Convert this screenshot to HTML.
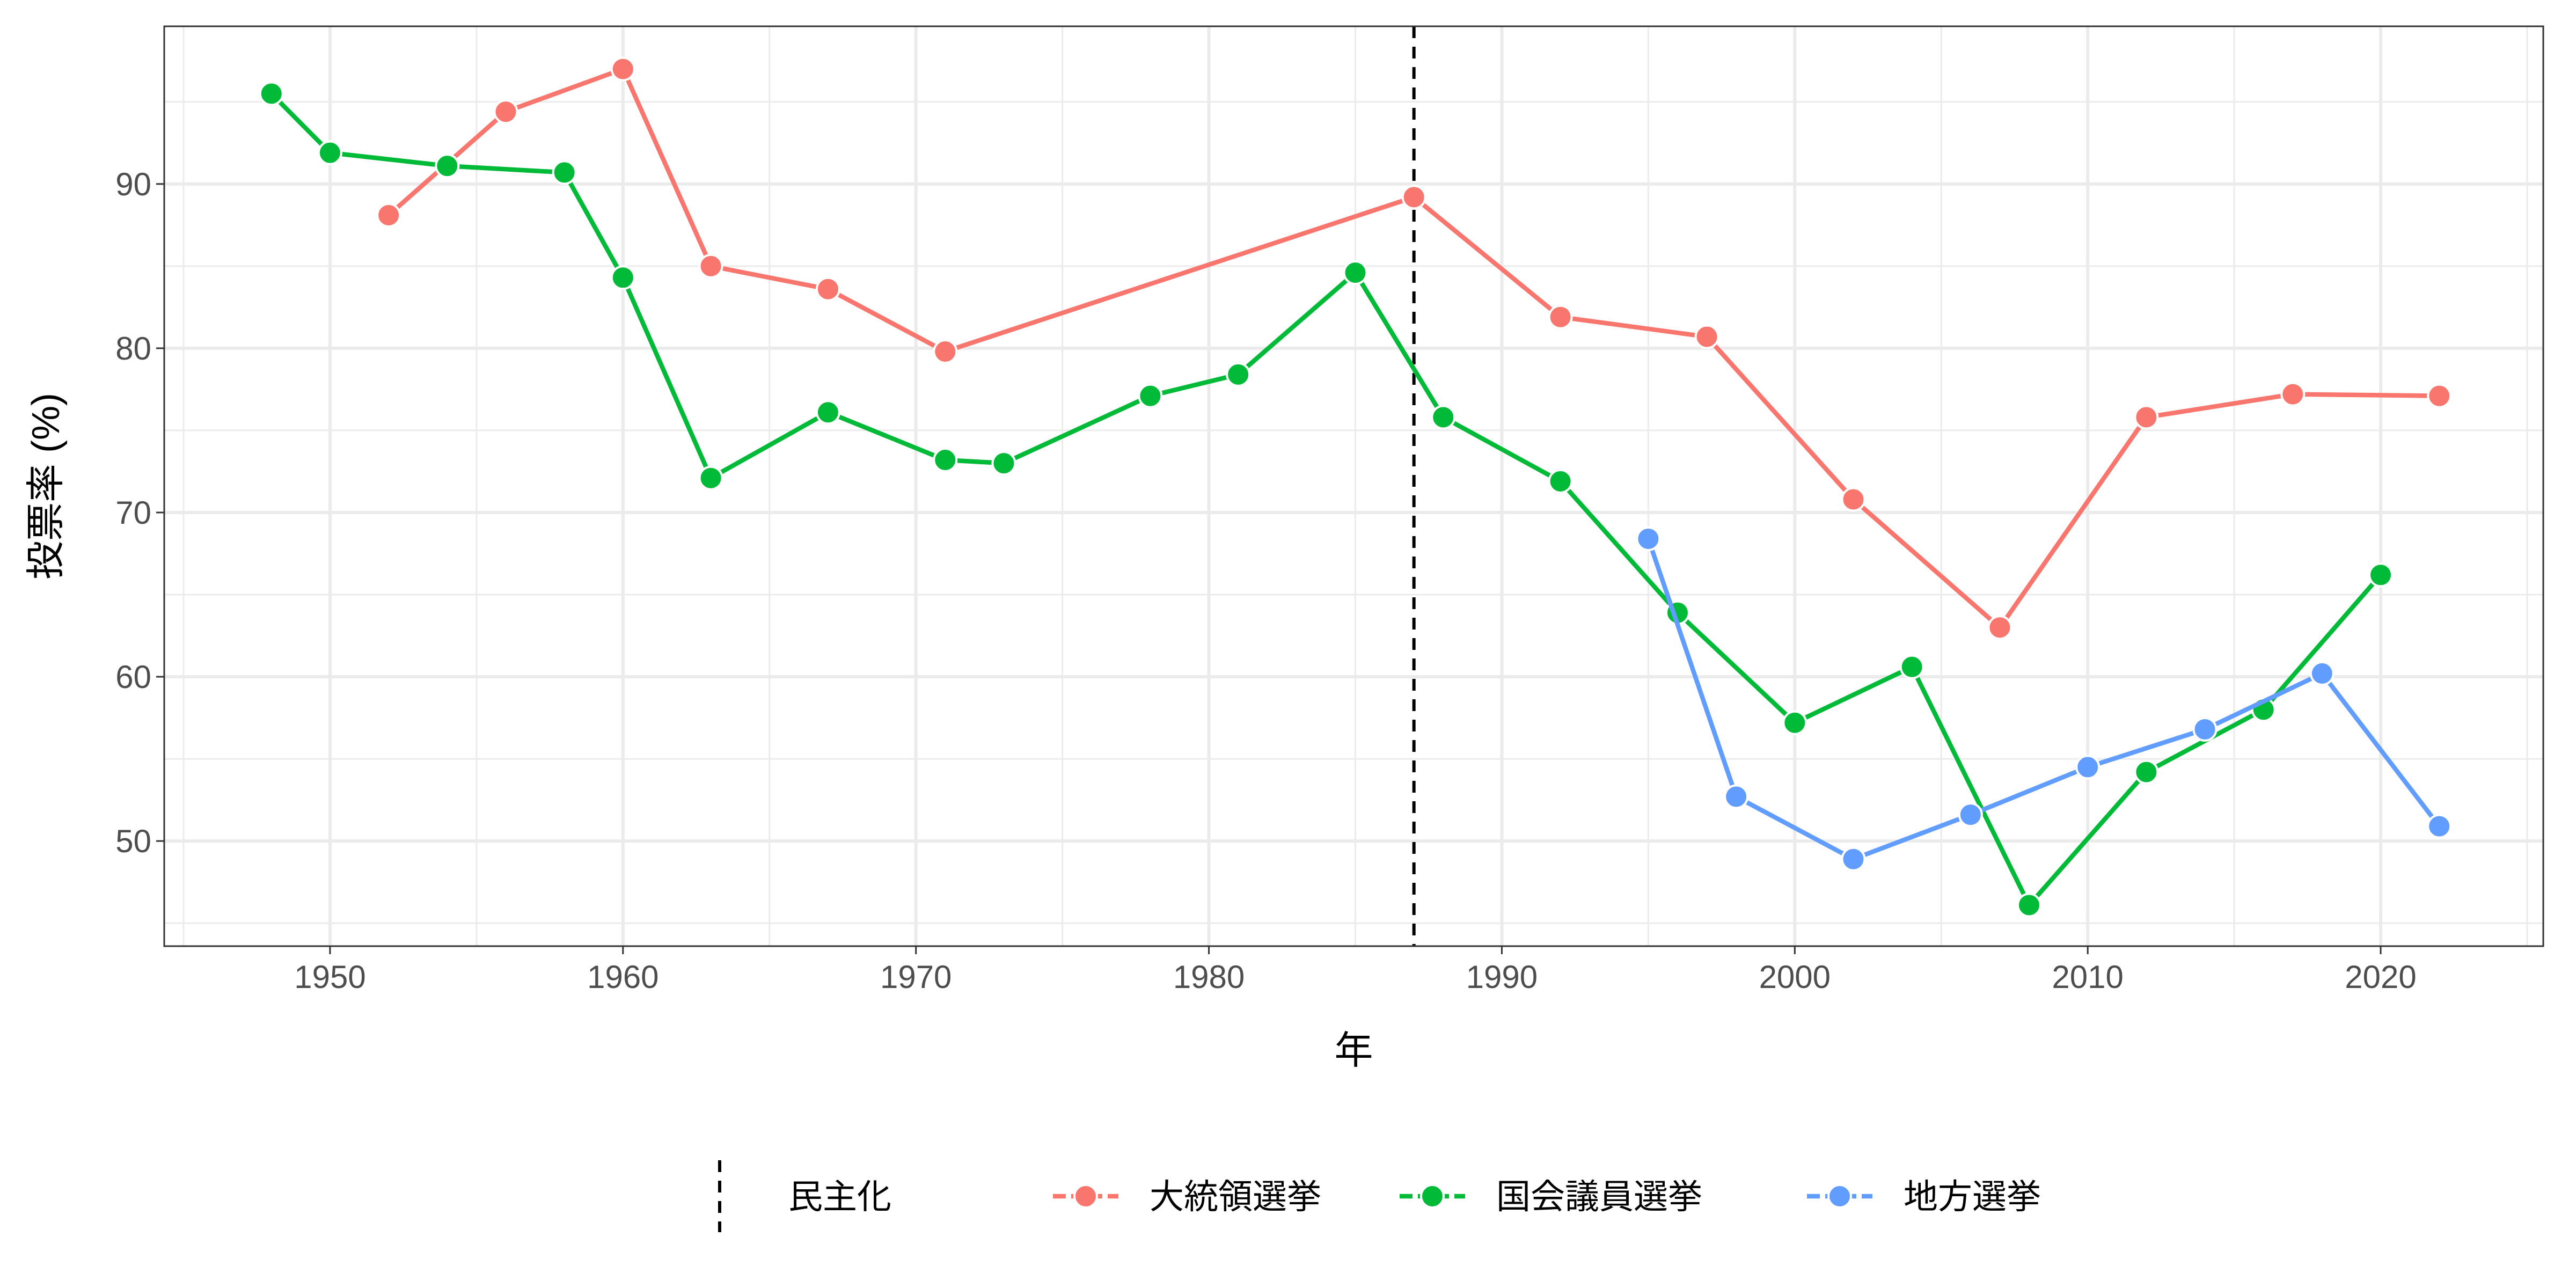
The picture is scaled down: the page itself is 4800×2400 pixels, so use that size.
<!DOCTYPE html>
<html><head><meta charset="utf-8"><style>body{margin:0;background:#fff}svg{display:block}</style></head>
<body>
<svg id="chart" width="4800" height="2400" viewBox="0 0 4800 2400" xmlns="http://www.w3.org/2000/svg" font-family="Liberation Sans, Noto Sans CJK JP, sans-serif"></svg>
<script>
const presYears=[1952,1956,1960,1963,1967,1971,1987,1992,1997,2002,2007,2012,2017,2022];
const presVals=[88.1,94.4,97.0,85.0,83.6,79.8,89.2,81.9,80.7,70.8,63.0,75.8,77.2,77.1];
const natYears=[1948,1950,1954,1958,1960,1963,1967,1971,1973,1978,1981,1985,1988,1992,1996,2000,2004,2008,2012,2016,2020];
const natVals=[95.5,91.9,91.1,90.7,84.3,72.1,76.1,73.2,73.0,77.1,78.4,84.6,75.8,71.9,63.9,57.2,60.6,46.1,54.2,58.0,66.2];
const locYears=[1995,1998,2002,2006,2010,2014,2018,2022];
const locVals=[68.4,52.7,48.9,51.6,54.5,56.8,60.2,50.9];
const xTicks=[1950,1960,1970,1980,1990,2000,2010,2020];
const yTicks=[50,60,70,80,90];
const democratizationYear=1987;

const L=306,R=4739,T=49,B=1763;
const xMin=1944.34,xMax=2025.55,yMin=43.6,yMax=99.6;
const X=v=>L+(v-xMin)/(xMax-xMin)*(R-L);
const Y=v=>B-(v-yMin)/(yMax-yMin)*(B-T);
const svg=document.getElementById('chart');
const NS='http://www.w3.org/2000/svg';
function mk(tag,attrs,parent){const e=document.createElementNS(NS,tag);for(const k in attrs)e.setAttribute(k,attrs[k]);(parent||svg).appendChild(e);return e;}

let bg=mk('rect',{x:L,y:T,width:R-L,height:B-T,fill:'#fff'});


for(let yr=1945;yr<=2025;yr+=10){let g=mk('line',{x1:X(yr),x2:X(yr),y1:T,y2:B,stroke:'#ebebeb','stroke-width':3});

}
for(let v=45;v<=95;v+=10){let g=mk('line',{x1:L,x2:R,y1:Y(v),y2:Y(v),stroke:'#ebebeb','stroke-width':3});

}
xTicks.forEach(t=>{let g=mk('line',{x1:X(t),x2:X(t),y1:T,y2:B,stroke:'#ebebeb','stroke-width':6});


let tk=mk('line',{x1:X(t),x2:X(t),y1:B,y2:B+15,stroke:'#333','stroke-width':3});


let tx=mk('text',{x:X(t),y:B+78,'text-anchor':'middle','font-size':60,fill:'#4d4d4d'});tx.textContent=t;

});
yTicks.forEach(t=>{let g=mk('line',{x1:L,x2:R,y1:Y(t),y2:Y(t),stroke:'#ebebeb','stroke-width':6});


let tk=mk('line',{x1:L-15,x2:L,y1:Y(t),y2:Y(t),stroke:'#333','stroke-width':3});


let tx=mk('text',{x:L-24,y:Y(t)+21,'text-anchor':'end','font-size':60,fill:'#4d4d4d'});tx.textContent=t;

});

function series(ys,vs,color,name){
  let d=ys.map((y,i)=>(i?'L':'M')+X(y)+','+Y(vs[i])).join(' ');
  let p=mk('path',{d:d,fill:'none',stroke:color,'stroke-width':8.5,'stroke-linejoin':'round'});
  
  
  ys.forEach((y,i)=>{let c=mk('circle',{cx:X(y),cy:Y(vs[i]),r:21,fill:color,stroke:'#fff','stroke-width':4});
  
  });
}
let dl=mk('line',{x1:X(democratizationYear),x2:X(democratizationYear),y1:T,y2:B,stroke:'#000','stroke-width':6,'stroke-dasharray':'22,16'});


series(presYears,presVals,'#F8766D','presidential');
series(natYears,natVals,'#00BA38','national-assembly');
series(locYears,locVals,'#619CFF','local');

let fr=mk('rect',{x:L,y:T,width:R-L,height:B-T,fill:'none',stroke:'#333','stroke-width':3});



let xt=mk('text',{x:(L+R)/2,y:1982,'text-anchor':'middle','font-size':72,fill:'#000'});xt.textContent='年';


let yt=mk('text',{x:0,y:0,'text-anchor':'middle','font-size':72,fill:'#000',transform:'translate(110,906) rotate(-90)'});yt.textContent='投票率 (%)';



// legend
const ly=2229;
let k0=mk('line',{x1:1341,x2:1341,y1:2162,y2:2296,stroke:'#000','stroke-width':6,'stroke-dasharray':'22,16'});


let t0=mk('text',{x:1469,y:ly+23,'font-size':64,fill:'#000'});t0.textContent='民主化';


[[1962,'#F8766D','大統領選挙','presidential'],[2608,'#00BA38','国会議員選挙','national-assembly'],[3367,'#619CFF','地方選挙','local']].forEach(([x,c,lab,n])=>{
  let l=mk('line',{x1:x,x2:x+122,y1:ly,y2:ly,stroke:c,'stroke-width':8.5,'stroke-dasharray':'24,10'});
  
  
  let cc=mk('circle',{cx:x+61,cy:ly,r:21,fill:c,stroke:'#fff','stroke-width':4});
  
  
  let t=mk('text',{x:x+180,y:ly+23,'font-size':64,fill:'#000'});t.textContent=lab;
  
  
});
</script>
</body></html>
